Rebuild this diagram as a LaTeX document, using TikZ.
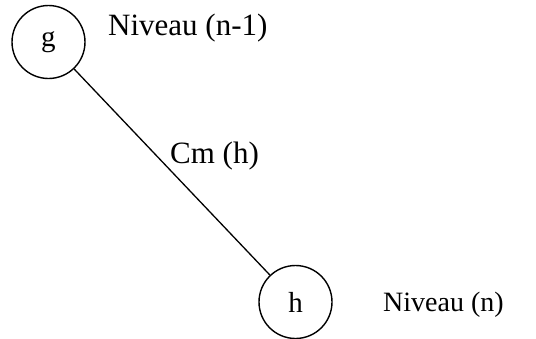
\documentclass[tikz,border=0pt]{standalone}
\usepackage{fontspec}
\setmainfont{Liberation Serif}
\begin{document}
\begin{tikzpicture}[x=1pt,y=-1pt,
  vertex/.style={draw,circle,line width=1.4pt,minimum size=73pt,inner sep=0pt,font=\fontsize{29}{31}\selectfont},
  lbl/.style={font=\fontsize{31}{34}\selectfont,inner sep=0pt},
  edge/.style={line width=1.3pt}]
\useasboundingbox (0,0) rectangle (536,338);
\node[vertex] (g) at (48.5,42) {g};
\node[vertex] (h) at (295.5,302) {h};
\draw[edge] (g) -- (h);
\node[lbl,anchor=base west] (n1) at (108,35) {Niveau (n-1)};
\node[lbl,anchor=base west] (cm) at (170,163) {Cm (h)};
\node[lbl,anchor=base west,font=\fontsize{28}{31}\selectfont] (n2) at (383,311) {Niveau (n)};
\end{tikzpicture}
\end{document}
